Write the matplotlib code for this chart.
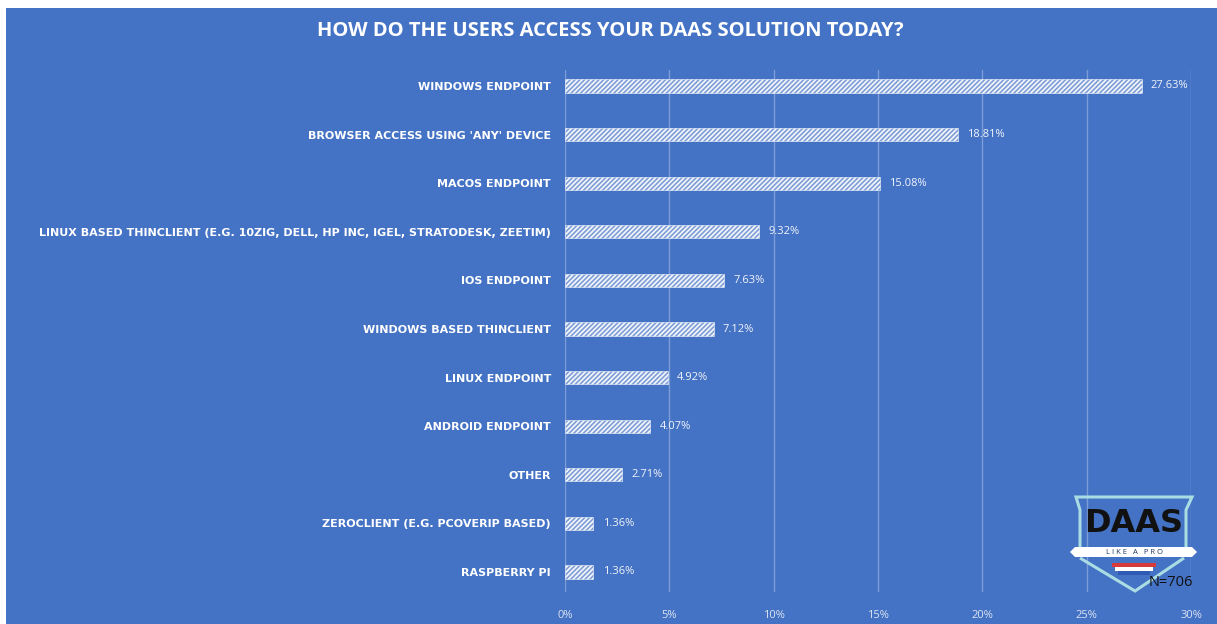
import numpy as np
import matplotlib.pyplot as plt
from matplotlib.patches import Rectangle, Polygon

categories = [
    "WINDOWS ENDPOINT",
    "BROWSER ACCESS USING 'ANY' DEVICE",
    "MACOS ENDPOINT",
    "LINUX BASED THINCLIENT (E.G. 10ZIG, DELL, HP INC, IGEL, STRATODESK, ZEETIM)",
    "IOS ENDPOINT",
    "WINDOWS BASED THINCLIENT",
    "LINUX ENDPOINT",
    "ANDROID ENDPOINT",
    "OTHER",
    "ZEROCLIENT (E.G. PCOVERIP BASED)",
    "RASPBERRY PI",
]
values = [27.63, 18.81, 15.08, 9.32, 7.63, 7.12, 4.92, 4.07, 2.71, 1.36, 1.36]
xticks = [0, 5, 10, 15, 20, 25, 30]
title = "HOW DO THE USERS ACCESS YOUR DAAS SOLUTION TODAY?"

BLUE = "#4472C4"
W, H = 1217, 624

plt.rcParams["font.family"] = ["Open Sans", "DejaVu Sans"]
plt.rcParams["hatch.linewidth"] = 1.2

fig = plt.figure(figsize=(W / 100, H / 100), dpi=100, facecolor=BLUE)
# thin white margin on top and left
fig.patches.append(Rectangle((0, 1 - 8 / H), 1, 8 / H, transform=fig.transFigure,
                             facecolor="white", edgecolor="none", zorder=-5))
fig.patches.append(Rectangle((0, 0), 6 / W, 1, transform=fig.transFigure,
                             facecolor="white", edgecolor="none", zorder=-5))

ax = fig.add_axes([565 / W, 32 / H, (1191 - 565) / W, 522 / H])
ax.set_facecolor("none")
y = np.arange(len(categories))
ax.barh(y, values, height=0.27, color="#7F9ED6", edgecolor="#F4F7FC",
        hatch="/" * 7, linewidth=0.4, zorder=3)
for yi, v in zip(y, values):
    ax.text(v + 0.45, yi, f"{v:.2f}%", va="center", ha="left", color="#F2F5FB",
            fontsize=8, zorder=4)

ax.set_xlim(0, 30)
ax.set_ylim(10 + 20 / 48.6, -16 / 48.6)
ax.set_xticks(xticks)
ax.set_xticklabels([f"{t}%" for t in xticks], color="#DCE4F2", fontsize=8)
ax.set_yticks(y)
ax.set_yticklabels(categories, color="white", fontsize=8, fontweight="bold",
                   family="DejaVu Sans")
ax.tick_params(axis="both", length=0)
ax.tick_params(axis="x", pad=13)
ax.tick_params(axis="y", pad=10)
ax.grid(axis="x", color="#7D9DD8", linewidth=1.0, zorder=0)
for s in ax.spines.values():
    s.set_visible(False)

fig.text(610 / W, 1 - 31 / H, title, ha="center", va="center", color="white",
         fontsize=14.5, fontweight="bold")


# logo: DAAS like a pro shield
def px(xp, yp):
    return (xp / W, 1 - yp / H)


def fpatch(p):
    p.set_transform(fig.transFigure)
    fig.patches.append(p)


fpatch(Polygon([px(1080, 549), px(1080, 510), px(1076, 497), px(1192, 497),
                px(1186, 510), px(1186, 549)], closed=False, facecolor="none",
               edgecolor="#A9DDE3", linewidth=2.2, zorder=5))
fpatch(Polygon([px(1080, 558), px(1135, 591), px(1184, 558)], closed=False,
               facecolor="none", edgecolor="#A9DDE3", linewidth=2.2, zorder=5))
fpatch(Polygon([px(1070, 552), px(1075, 547), px(1192, 547), px(1197, 552),
                px(1192, 557), px(1075, 557)], closed=True, facecolor="white",
               edgecolor="none", zorder=6))
for i, c in enumerate(["#D63A3A", "white", "#2F5BB7"]):
    fpatch(Rectangle(px(1112 + i * 3, 567 + i * 4), (44 - i * 6) / W, 4 / H,
                     facecolor=c, edgecolor="none", zorder=6))
fig.text(1134 / W, 1 - 524 / H, "DAAS", ha="center", va="center", color="#111111",
         fontsize=23, fontweight="bold", family="DejaVu Sans", zorder=7)
fig.text(1134 / W, 1 - 552 / H, "L I K E   A   P R O", ha="center", va="center",
         color="#1F3864", fontsize=5.5, zorder=7)
fig.text(1171 / W, 1 - 583 / H, "N=706", ha="center", va="center", color="#111111",
         fontsize=10.5, zorder=7)

fig.savefig("out.png", dpi=100, facecolor=BLUE)
